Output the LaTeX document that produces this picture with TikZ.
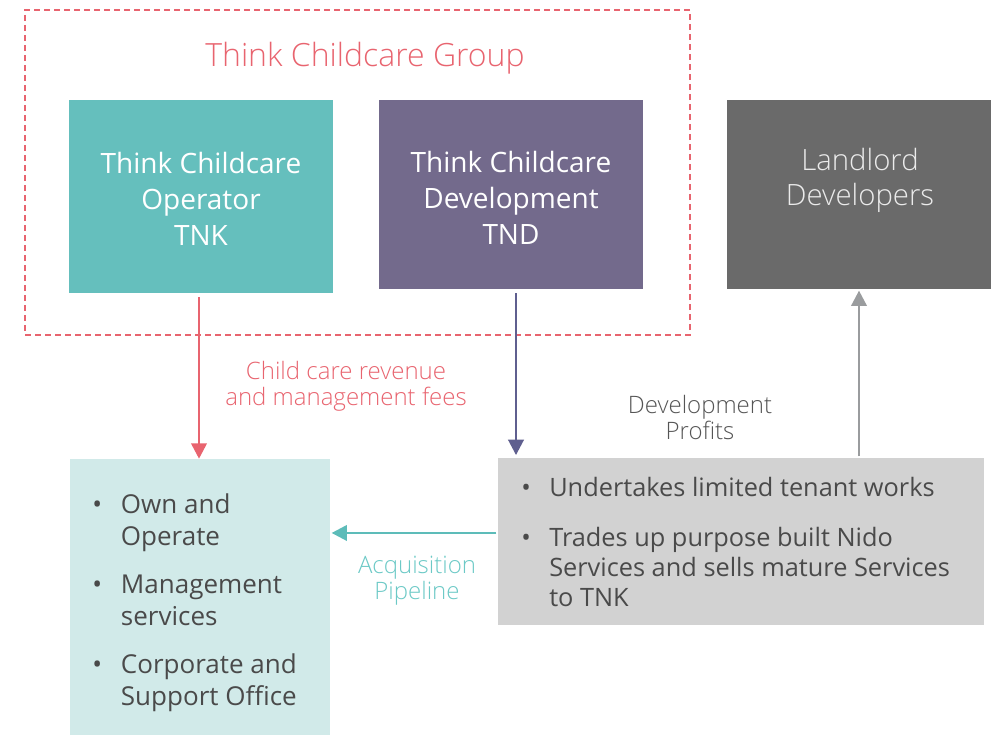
\documentclass[tikz,border=0pt]{standalone}
\usepackage{fontspec}
\setmainfont{Open Sans}
\newfontfamily\lightfont{Open Sans Light}
\usetikzlibrary{arrows.meta}

\definecolor{grpred}{HTML}{E8646F}
\definecolor{tnkteal}{HTML}{65BFBD}
\definecolor{tndpurple}{HTML}{736A8C}
\definecolor{landgray}{HTML}{6A6A6A}
\definecolor{opsfill}{HTML}{D1EAE9}
\definecolor{devfill}{HTML}{D2D2D2}
\definecolor{purplearrow}{HTML}{5F5F8F}
\definecolor{grayarrow}{HTML}{9A9C9E}
\definecolor{tealarrow}{HTML}{5DBCB9}
\definecolor{acqteal}{HTML}{6CC9C6}
\definecolor{bodytext}{HTML}{4A4A4A}
\definecolor{profittext}{HTML}{555555}

\tikzset{
  entitybox/.style={rectangle, inner sep=0pt, text=white, align=center,
    font=\fontsize{21pt}{27pt}\selectfont},
  flowlabel/.style={align=center, inner sep=0pt,
    font=\lightfont\fontsize{18pt}{19.5pt}\selectfont},
  listbox/.style={rectangle, inner sep=0pt},
  listtext/.style={inner sep=0pt, text=bodytext},
  flow/.style={line width=2pt, -{Triangle[length=11.5pt,width=11.5pt]}},
}

\begin{document}
\begin{tikzpicture}[x=0.75pt,y=-0.75pt]
  \useasboundingbox (0,0) rectangle (998,735);

  % group frame and title
  \node[draw=grpred, dashed, dash pattern=on 4.5pt off 3pt, line width=1.5pt,
        minimum width=498.75pt, minimum height=243.75pt, inner sep=0pt]
        (group) at (357.5,172.5) {};
  \node[text=grpred, font=\lightfont\fontsize{24pt}{28pt}\selectfont, inner sep=0pt]
        (grouptitle) at (365,58) {Think Childcare Group};

  % entities
  \node[entitybox, fill=tnkteal, minimum width=198pt, minimum height=144.75pt]
        (tnk) at (201,196.5) {};
  \node[entitybox] (tnktext) at (201,199) {Think Childcare\\Operator\\TNK};
  \node[entitybox, fill=tndpurple, minimum width=198pt, minimum height=141.75pt]
        (tnd) at (511,194.5) {};
  \node[entitybox] (tndtext) at (511,198) {Think Childcare\\Development\\TND};
  \node[entitybox, fill=landgray, minimum width=198pt, minimum height=141.75pt]
        (land) at (859,194.5) {};
  \node[entitybox, text=white!92!black, font=\lightfont\fontsize{22pt}{26.5pt}\selectfont]
        (landtext) at (860,180.5) {Landlord\\Developers};

  % activity boxes
  \node[listbox, fill=opsfill, minimum width=195pt, minimum height=207pt]
        (ops) at (200,597) {};
  \node[listtext, anchor=north west, font=\fontsize{19.5pt}{24pt}\selectfont]
        (opslist) at (92,491) {%
    \begin{tabular}{@{}p{21.5pt}@{}l@{}}
      • & Own and\\
        & Operate\\[12pt]
      • & Management\\
        & services\\[12pt]
      • & Corporate and\\
        & Support Office
    \end{tabular}};

  \node[listbox, fill=devfill, minimum width=364.5pt, minimum height=125.25pt]
        (dev) at (741,541.5) {};
  \node[listtext, anchor=north west, font=\fontsize{19pt}{22.5pt}\selectfont]
        (devlist) at (521,475) {%
    \begin{tabular}{@{}p{21pt}@{}l@{}}
      • & Undertakes limited tenant works\\[15.5pt]
      • & Trades up purpose built Nido\\
        & Services and sells mature Services\\
        & to TNK
    \end{tabular}};

  % flows
  \draw[flow, grpred, shorten <=3pt]
        ([xshift=-1.5pt]tnk.south) -- ([xshift=-1.5pt]tnk.south |- ops.north);
  \draw[flow, purplearrow, shorten <=3pt, shorten >=2pt]
        ([xshift=3.75pt]tnd.south) -- ([xshift=3.75pt]tnd.south |- dev.north);
  \draw[flow, grayarrow, shorten <=1pt, shorten >=1pt]
        (land.south |- dev.north) -- (land.south);
  \draw[flow, tealarrow, shorten <=1pt, shorten >=1pt]
        ([yshift=6.4pt]dev.west) -- ([yshift=6.4pt]dev.west -| ops.east);

  % flow labels
  \node[flowlabel, text=grpred] (revlabel) at (346,386)
        {Child care revenue\\and management fees};
  \node[flowlabel, text=profittext] (profitlabel) at (700,417)
        {Development\\Profits};
  \node[flowlabel, text=acqteal] (acqlabel) at (417,581)
        {Acquisition\\Pipeline};
\end{tikzpicture}
\end{document}
